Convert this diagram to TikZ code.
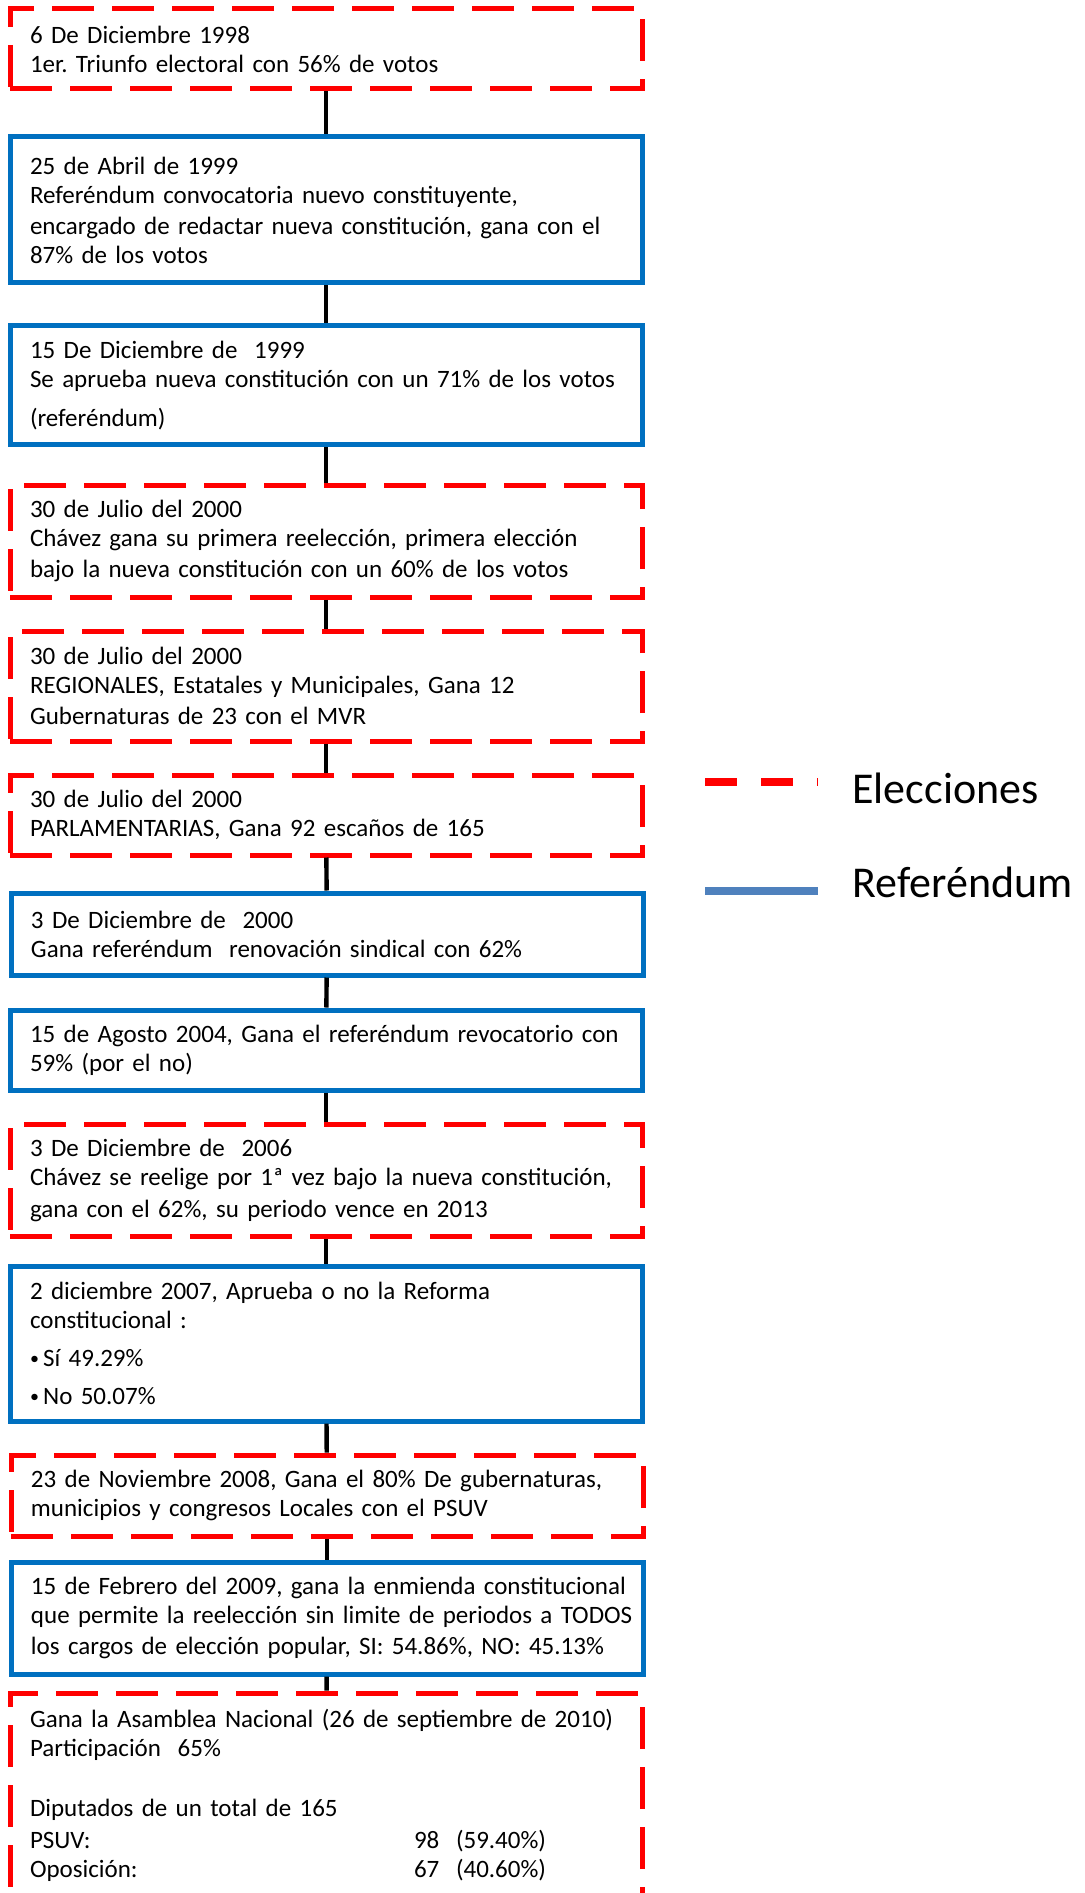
\documentclass[tikz,border=0pt]{standalone}
\usepackage{fontspec}
\setmainfont{Carlito}
\frenchspacing
\definecolor{rojo}{HTML}{FF0000}
\definecolor{azul}{HTML}{0070C0}
\definecolor{azulley}{HTML}{4F81BD}
\newcommand{\vineta}{{\fontsize{9}{9}\selectfont\raisebox{1pt}{\textbullet}}\,}

\begin{document}
\begin{tikzpicture}[x=0.5pt,y=-0.5pt,
  caja/.style={rectangle,minimum width=316pt,text width=296pt,inner xsep=10pt,inner ysep=0pt,align=left,
    font=\fontsize{12.5}{14.5}\selectfont,execute at begin node={\rightskip=0pt plus 2em minus 25pt\relax}},
  elec/.style={caja,draw=rojo,line width=2.5pt,dash pattern=on 21pt off 9pt},
  refe/.style={caja,draw=azul,line width=2.5pt},
  union/.style={draw=black,line width=2.2pt},
  ley/.style={anchor=base west,inner sep=0pt,font=\fontsize{22}{26}\selectfont}]
  \useasboundingbox (0,0) rectangle (1085,1893);
  \clip (0,0) rectangle (1085,1893);

  % linea de tiempo
  \node[elec,minimum height=40pt] (e1) at (326,49) {6 De Diciembre 1998\\1er. Triunfo electoral con 56\% de votos};
  \node[refe,minimum height=73pt] (r2) at (326,210) {25 de Abril de 1999\\Referéndum convocatoria nuevo constituyente,\\[1pt]encargado de redactar nueva constitución, gana con el\\87\% de los votos};
  \node[refe,minimum height=59.5pt] (r3) at (326,385.5) {15 De Diciembre de\ \ 1999\\Se aprueba nueva constitución con un 71\% de los votos\\[5pt](referéndum)};
  \node[elec,minimum height=56pt] (e4) at (326,541) {30 de Julio\ del 2000\\Chávez gana su primera reelección, primera elección\\[1pt]bajo la nueva constitución con un 60\% de los votos};
  \node[elec,minimum height=55pt] (e5) at (326,686) {30 de Julio\ del 2000\\REGIONALES, Estatales y Municipales, Gana 12\\[1pt]Gubernaturas de 23 con el MVR};
  \node[elec,minimum height=40pt] (e6) at (326,815) {30 de Julio\ del 2000\\PARLAMENTARIAS, Gana 92 escaños de 165};
  \node[refe,minimum height=41pt] (r7) at (327,934) {3 De Diciembre de\ \ 2000\\Gana referéndum\ \ renovación sindical con 62\%};
  \node[refe,minimum height=40pt] (r8) at (326,1050) {15 de Agosto 2004, Gana el referéndum revocatorio con\\59\% (por el no)};
  \node[elec,minimum height=56pt] (e9) at (326,1180) {3 De Diciembre de\ \ 2006\\Chávez se reelige por 1ª vez bajo la nueva constitución,\\[1.5pt]gana con el 62\%, su periodo vence en 2013};
  \node[refe,minimum height=77.5pt] (r10) at (326,1343.5) {2 diciembre 2007, Aprueba o no la Reforma\\constitucional :\\[4.5pt]\vineta Sí 49.29\%\\[4.5pt]\vineta No 50.07\%};
  \node[elec,minimum height=40.5pt] (e11) at (327,1495.5) {23 de Noviembre 2008, Gana el 80\% De gubernaturas,\\municipios y congresos Locales con el PSUV};
  \node[refe,minimum height=56pt] (r12) at (327,1618) {15 de Febrero del 2009, gana la enmienda constitucional\\que permite la reelección sin limite de periodos a TODOS\\[1pt]los cargos de elección popular, SI: 54.86\%, NO: 45.13\%};
  \node[elec,minimum height=102pt] (e13) at (326,1795) {Gana la Asamblea Nacional (26 de septiembre de 2010)\\Participación\ \ 65\%\\[15.5pt]Diputados de un total de 165\\[1.5pt]\makebox[192pt][l]{PSUV:}98\ \ (59.40\%)\\\makebox[192pt][l]{Oposición:}67\ \ (40.60\%)};

  \draw[union] (e1) -- (r2);
  \draw[union] (r2) -- (r3);
  \draw[union] (r3) -- (e4);
  \draw[union] (e4) -- (e5);
  \draw[union] (e5) -- (e6);
  \draw[union] (e6) -- (r7);
  \draw[union] (r7) -- (r8);
  \draw[union] (r8) -- (e9);
  \draw[union] (e9) -- (r10);
  \draw[union] (r10) -- (e11);
  \draw[union] (e11) -- (r12);
  \draw[union] (r12) -- (e13);

  % leyenda
  \node[ley] (lelec) at (852,803) {Elecciones};
  \node[ley] (lref) at (852,897) {Referéndum};
  \draw[rojo,line width=4pt,dash pattern=on 16pt off 12pt] (705,782) -- (818,782);
  \draw[azulley,line width=4pt] (705,891) -- (818,891);
\end{tikzpicture}
\end{document}
